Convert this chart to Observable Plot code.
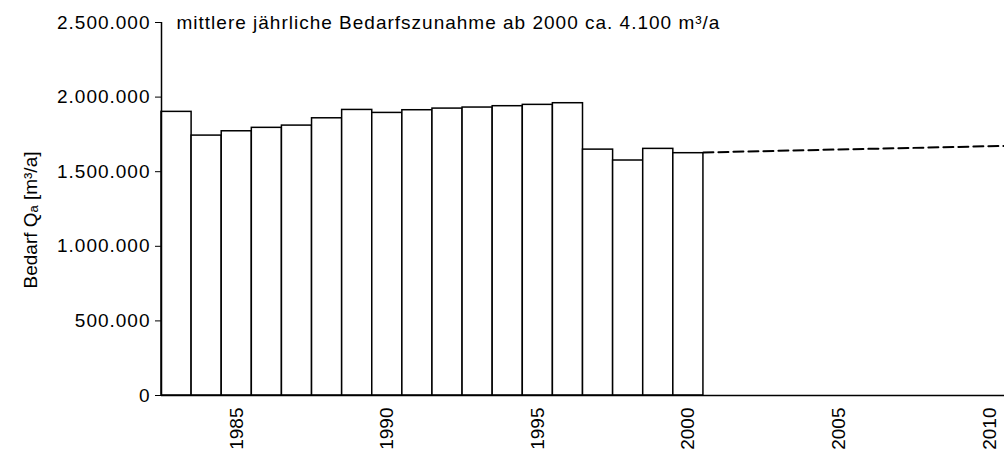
<!DOCTYPE html>
<html>
<head>
<meta charset="utf-8">
<script src="https://cdn.jsdelivr.net/npm/d3@7"></script>
<script src="https://cdn.jsdelivr.net/npm/@observablehq/plot@0.6"></script>
<style>
  html, body { margin: 0; padding: 0; background: #fff; }
</style>
</head>
<body>
<div id="chart"></div>
<script>
const years = [1983, 1984, 1985, 1986, 1987, 1988, 1989, 1990, 1991, 1992, 1993, 1994, 1995, 1996, 1997, 1998, 1999, 2000];
const demand = [1901000, 1742000, 1771000, 1794000, 1809000, 1858000, 1914000, 1894000, 1912000, 1923000, 1930000, 1939000, 1948000, 1959000, 1648000, 1575000, 1653000, 1624000];
const trendYears = [2000.5, 2010.5];
const trendValues = [1629000, 1673000];
const xTicks = [1985, 1990, 1995, 2000, 2005, 2010];
const yTicks = [0, 500000, 1000000, 1500000, 2000000, 2500000];
const title = "mittlere jährliche Bedarfszunahme ab 2000 ca. 4.100 m³/a";
const yLabel = "Bedarf Qₐ [m³/a]";

const bars = years.map((y, i) => ({year: y, value: demand[i]}));
const trend = trendYears.map((y, i) => ({year: y, value: trendValues[i]}));

const de = d3.formatLocale({decimal: ",", thousands: ".", grouping: [3], currency: ["", " €"]});
const fmt = de.format(",d");

const chart = Plot.plot({
  width: 1004,
  height: 459,
  marginLeft: 161,
  marginRight: 0,
  marginTop: 22,
  marginBottom: 64,
  style: {fontFamily: "'Liberation Sans', Arial, sans-serif", fontSize: "19px", color: "#000", background: "#fff"},
  x: {domain: [1982.5, 2010.5]},
  y: {domain: [0, 2500000]},
  marks: [
    Plot.rectY(bars, {x1: d => d.year - 0.5, x2: d => d.year + 0.5, y: "value", fill: "white", stroke: "black", strokeWidth: 1.5}),
    Plot.line(trend, {x: "year", y: "value", stroke: "black", strokeWidth: 2, strokeDasharray: "10,5"}),
    Plot.ruleX([1982.5], {y1: 0, y2: 2500000, stroke: "black", strokeWidth: 1.5}),
    Plot.ruleY([0], {stroke: "black", strokeWidth: 1.5}),
    Plot.axisY({ticks: yTicks, tickFormat: fmt, tickSize: 6, tickPadding: 5, label: null, fontSize: 19}),
    Plot.axisX({ticks: xTicks, tickFormat: d => String(d), tickSize: 0, tickPadding: 12, tickRotate: -90, label: null, fontSize: 19}),
    Plot.text([title], {frameAnchor: "top-left", dx: 15, dy: 0, lineAnchor: "middle", textAnchor: "start", fontSize: 19}),
    Plot.text([yLabel], {frameAnchor: "left", dx: -131, dy: 11, rotate: -90, textAnchor: "middle", fontSize: 19})
  ]
});
d3.select(chart).selectAll("g[aria-label='y-axis tick label'] text").style("letter-spacing", "1px");
d3.select(chart).selectAll("g[aria-label='text']").filter((d, i) => i === 0).selectAll("text").style("letter-spacing", "1px");
document.getElementById("chart").appendChild(chart);
</script>
</body>
</html>
